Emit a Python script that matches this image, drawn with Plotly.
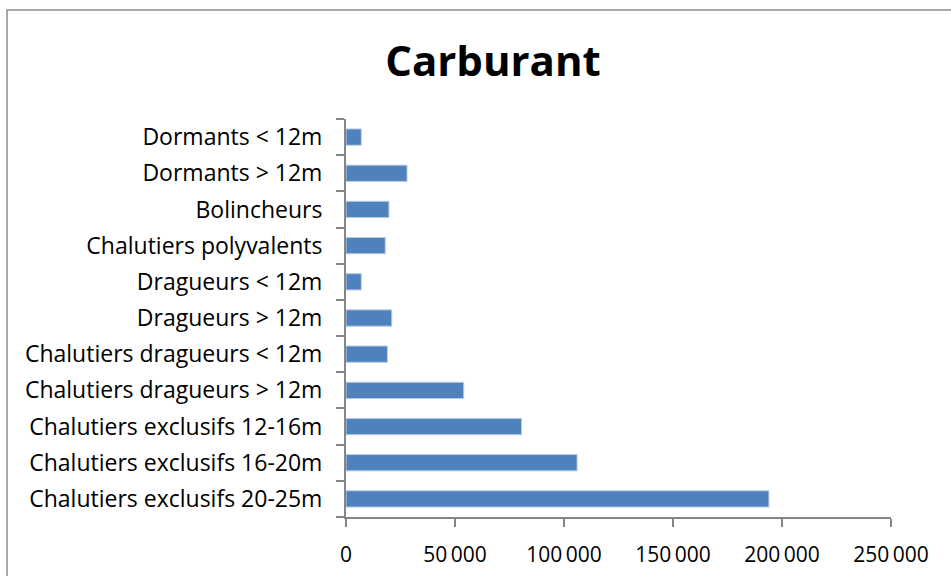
import plotly.graph_objects as go

categories = [
    "Chalutiers exclusifs 20-25m",
    "Chalutiers exclusifs 16-20m",
    "Chalutiers exclusifs 12-16m",
    "Chalutiers dragueurs > 12m",
    "Chalutiers dragueurs < 12m",
    "Dragueurs > 12m",
    "Dragueurs < 12m",
    "Chalutiers polyvalents",
    "Bolincheurs",
    "Dormants > 12m",
    "Dormants < 12m",
]
values = [194000, 106000, 80500, 54000, 19000, 21000, 7000, 18000, 19700, 28000, 7000]

x_tick_vals = [0, 50000, 100000, 150000, 200000, 250000]
x_tick_text = ["0", "50\u2009000", "100\u2009000", "150\u2009000", "200\u2009000", "250\u2009000"]

W, H = 951, 576
L, R, T, B = 346, 891, 119, 517

def px_x(p):
    return (p - L) / (R - L)

def px_y(p):
    return (B - p) / (B - T)

fig = go.Figure(go.Bar(
    y=categories,
    x=values,
    orientation="h",
    marker=dict(color="#4F81BD", line=dict(color="#B9CDE5", width=1)),
))

axis_color = "#868686"
fig.update_layout(
    width=W, height=H,
    margin=dict(l=L, r=W - R, t=T, b=H - B, pad=0, autoexpand=False),
    paper_bgcolor="white", plot_bgcolor="white",
    font=dict(family="Open Sans, sans-serif", size=21, color="#000000"),
    bargap=0.55,
    showlegend=False,
    title=dict(text="<b>Carburant</b>", x=493 / W, xanchor="center",
               y=1 - 61 / H, yanchor="middle", yref="container",
               font=dict(family="Open Sans, sans-serif", size=42, color="#000")),
    xaxis=dict(range=[0, 250000], tickvals=x_tick_vals, ticktext=x_tick_text,
               automargin=False,
               showgrid=False, zeroline=False, showline=True, linecolor=axis_color,
               linewidth=2, ticks="outside", ticklen=8, tickwidth=2, tickcolor=axis_color,
               ticklabelstandoff=10, tickfont=dict(size=21)),
    yaxis=dict(categoryorder="array", categoryarray=categories,
               automargin=False,
               showgrid=False, zeroline=False, showline=True, linecolor=axis_color,
               linewidth=2, ticks="outside", ticklen=8, tickwidth=2, tickcolor=axis_color,
               tickson="boundaries", ticklabelstandoff=17, tickfont=dict(size=23)),
    shapes=[dict(type="rect", xref="paper", yref="paper",
                 x0=px_x(7), x1=px_x(965), y0=px_y(600), y1=px_y(10),
                 line=dict(color="#8a8a8a", width=1.5), fillcolor="rgba(0,0,0,0)",
                 layer="below")],
)

fig.write_html("out.html", config={"displayModeBar": False},
               post_script="document.body.style.margin='0';document.body.style.overflow='hidden';")
